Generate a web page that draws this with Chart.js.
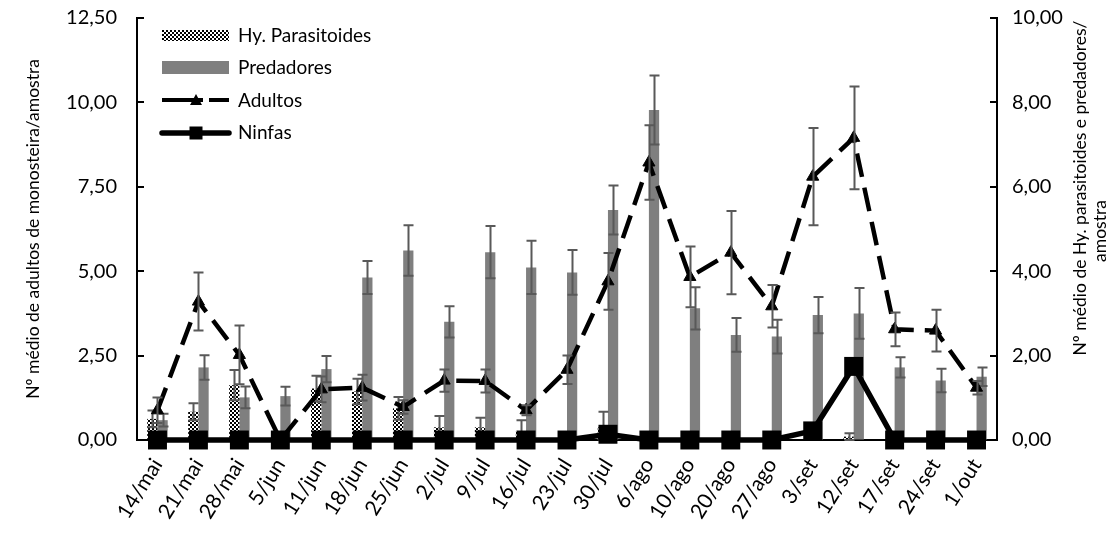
<!DOCTYPE html>
<html>
<head>
<meta charset="utf-8">
<script src="https://cdn.jsdelivr.net/npm/chart.js@4.4.0/dist/chart.umd.min.js"></script>
<style>
  html, body { margin: 0; padding: 0; background: #fff; }
  #wrap { width: 1115px; height: 533px; position: relative; }
</style>
</head>
<body>
<div id="wrap"><canvas id="grafico" width="1115" height="533"></canvas></div>
<script>
// Datas de amostragem
const categorias = ['14/mai', '21/mai', '28/mai', '5/jun', '11/jun', '18/jun', '25/jun', '2/jul', '9/jul', '16/jul',
  '23/jul', '30/jul', '6/ago', '10/ago', '20/ago', '27/ago', '3/set', '12/set', '17/set', '24/set', '1/out'];

// Eixo secundário: inimigos naturais por amostra
const parasitoides      = [0.50, 0.67, 1.30, 0.00, 1.22, 1.15, 0.75, 0.30, 0.30, 0.20, 0.00, 0.30, 0.00, 0.00, 0.00, 0.00, 0.00, 0.08, 0.00, 0.00, 0.00];
const parasitoidesErro  = [0.20, 0.20, 0.36, 0.00, 0.30, 0.30, 0.27, 0.27, 0.23, 0.27, 0.00, 0.37, 0.00, 0.00, 0.00, 0.00, 0.00, 0.08, 0.00, 0.00, 0.00];
const predadores        = [0.47, 1.72, 1.01, 1.04, 1.68, 3.85, 4.49, 2.80, 4.45, 4.09, 3.97, 5.45, 7.82, 3.12, 2.49, 2.45, 2.96, 3.00, 1.72, 1.41, 1.50];
const predadoresErro    = [0.15, 0.29, 0.26, 0.22, 0.31, 0.39, 0.60, 0.37, 0.62, 0.63, 0.53, 0.58, 0.82, 0.50, 0.40, 0.40, 0.43, 0.60, 0.24, 0.28, 0.22];

// Eixo principal: monosteira por amostra
const adultos           = [0.88, 4.10, 2.52, 0.00, 1.50, 1.55, 0.98, 1.76, 1.75, 0.88, 2.08, 4.70, 8.22, 4.83, 5.55, 3.96, 7.80, 8.95, 3.28, 3.24, 1.55];
const adultosErro       = [0.38, 0.86, 0.87, 0.00, 0.38, 0.38, 0.20, 0.33, 0.34, 0.15, 0.42, 0.84, 1.10, 0.90, 1.23, 0.63, 1.44, 1.52, 0.50, 0.62, 0.20];
const ninfas            = [0.00, 0.00, 0.00, 0.00, 0.00, 0.00, 0.00, 0.00, 0.00, 0.00, 0.00, 0.17, 0.00, 0.00, 0.00, 0.00, 0.27, 2.18, 0.00, 0.00, 0.00];

const ticksEsquerda = [0, 2.5, 5, 7.5, 10, 12.5];
const ticksDireita  = [0, 2, 4, 6, 8, 10];

const FONTE = 'Lato, "Open Sans", sans-serif';
const CINZA_BARRA = '#7f7f7f';
const CINZA_ERRO = '#595959';

const canvas = document.getElementById('grafico');
const ctx0 = canvas.getContext('2d');

// Trama quadriculada preta e branca das barras de parasitoides
function criarTrama() {
  const c = document.createElement('canvas');
  c.width = 4; c.height = 4;
  const g = c.getContext('2d');
  g.fillStyle = '#fff'; g.fillRect(0, 0, 4, 4);
  g.fillStyle = '#000'; g.fillRect(0, 0, 2, 2); g.fillRect(2, 2, 2, 2);
  return ctx0.createPattern(c, 'repeat');
}
const trama = criarTrama();

const virgula = v => v.toFixed(2).replace('.', ',');

// Barras de erro desenhadas logo após cada série
const barrasErro = {
  id: 'barrasErro',
  afterDatasetDraw(chart, args) {
    const ds = chart.data.datasets[args.index];
    if (!ds.erros) return;
    const meta = args.meta;
    const escala = chart.scales[meta.yAxisID];
    const ctx = chart.ctx;
    ctx.save();
    ctx.strokeStyle = CINZA_ERRO;
    ctx.lineWidth = 2;
    meta.data.forEach((el, i) => {
      const e = ds.erros[i];
      if (!e) return;
      const v = ds.data[i];
      const x = Math.round(el.x) + 0.5;
      const yt = escala.getPixelForValue(v + e);
      const yb = escala.getPixelForValue(Math.max(0, v - e));
      ctx.beginPath();
      ctx.moveTo(x, yt); ctx.lineTo(x, yb);
      ctx.moveTo(x - 5, yt); ctx.lineTo(x + 5, yt);
      ctx.moveTo(x - 5, yb); ctx.lineTo(x + 5, yb);
      ctx.stroke();
    });
    ctx.restore();
  }
};

// Marcas internas dos eixos, títulos dos eixos e legenda
const decoracao = {
  id: 'decoracao',
  afterDraw(chart) {
    const { ctx, chartArea: a, scales } = chart;
    ctx.save();
    ctx.strokeStyle = '#000';
    ctx.lineWidth = 2;
    ticksEsquerda.forEach(v => {
      const y = Math.round(scales.y.getPixelForValue(v));
      ctx.beginPath(); ctx.moveTo(a.left, y); ctx.lineTo(a.left + 7, y); ctx.stroke();
    });
    ticksDireita.forEach(v => {
      const y = Math.round(scales.y1.getPixelForValue(v));
      ctx.beginPath(); ctx.moveTo(a.right - 7, y); ctx.lineTo(a.right, y); ctx.stroke();
    });

    // títulos dos eixos
    ctx.fillStyle = '#000';
    ctx.font = '17.5px ' + FONTE;
    ctx.textAlign = 'center';
    ctx.textBaseline = 'middle';
    const meio = (a.top + a.bottom) / 2;
    ctx.save();
    ctx.translate(33, meio);
    ctx.rotate(-Math.PI / 2);
    ctx.fillText('Nº médio de adultos de monosteira/amostra', 0, 0);
    ctx.restore();
    ctx.save();
    ctx.translate(1080, 188);
    ctx.rotate(-Math.PI / 2);
    ctx.fillText('Nº médio de Hy. parasitoides e predadores/', 0, 0);
    ctx.restore();
    ctx.save();
    ctx.translate(1100, 231);
    ctx.rotate(-Math.PI / 2);
    ctx.fillText('amostra', 0, 0);
    ctx.restore();

    // legenda
    const x0 = 162, x1 = 229, xm = 196;
    ctx.fillStyle = trama;
    ctx.fillRect(x0, 30, x1 - x0, 11);
    ctx.fillStyle = CINZA_BARRA;
    ctx.fillRect(x0, 61, x1 - x0, 13);

    ctx.strokeStyle = '#000';
    ctx.lineWidth = 4;
    ctx.beginPath();
    ctx.moveTo(x0, 100); ctx.lineTo(203, 100);
    ctx.moveTo(209, 100); ctx.lineTo(x1, 100);
    ctx.stroke();
    ctx.fillStyle = '#000';
    ctx.beginPath();
    ctx.moveTo(xm, 94); ctx.lineTo(xm + 6, 105); ctx.lineTo(xm - 6, 105); ctx.closePath();
    ctx.fill();

    ctx.lineWidth = 5.5;
    ctx.lineCap = 'round';
    ctx.beginPath(); ctx.moveTo(x0, 133); ctx.lineTo(x1, 133); ctx.stroke();
    ctx.lineCap = 'butt';
    ctx.fillRect(xm - 6.5, 126.5, 13, 13);

    ctx.fillStyle = '#000';
    ctx.font = '19px ' + FONTE;
    ctx.textAlign = 'left';
    ctx.fillText('Hy. Parasitoides', 238, 36);
    ctx.fillText('Predadores', 238, 68);
    ctx.fillText('Adultos', 238, 101);
    ctx.fillText('Ninfas', 238, 133);
    ctx.restore();
  }
};

const fonteTicks = { family: FONTE, size: 20 };

// Grade invisível: só afasta os rótulos do eixo sem reservar espaço no topo
const gradeEixoY = tl => ({
  display: true,
  drawOnChartArea: false,
  drawTicks: true,
  tickLength: tl,
  tickColor: 'rgba(0,0,0,0)'
});

new Chart(canvas, {
  type: 'bar',
  data: {
    labels: categorias,
    datasets: [
      {
        label: 'Hy. Parasitoides',
        data: parasitoides,
        erros: parasitoidesErro,
        yAxisID: 'y1',
        backgroundColor: trama,
        borderWidth: 0,
        categoryPercentage: 0.5,
        barPercentage: 1.0,
        order: 2
      },
      {
        label: 'Predadores',
        data: predadores,
        erros: predadoresErro,
        yAxisID: 'y1',
        backgroundColor: CINZA_BARRA,
        borderWidth: 0,
        categoryPercentage: 0.5,
        barPercentage: 1.0,
        order: 2
      },
      {
        type: 'line',
        label: 'Adultos',
        data: adultos,
        erros: adultosErro,
        yAxisID: 'y',
        borderColor: '#000',
        borderWidth: 4.5,
        borderDash: [24, 11],
        borderCapStyle: 'butt',
        tension: 0,
        fill: false,
        pointStyle: 'triangle',
        pointRadius: 7,
        pointBackgroundColor: '#000',
        pointBorderColor: '#000',
        pointBorderWidth: 1,
        clip: false,
        order: 1
      },
      {
        type: 'line',
        label: 'Ninfas',
        data: ninfas,
        yAxisID: 'y',
        borderColor: '#000',
        borderWidth: 5.5,
        tension: 0,
        fill: false,
        pointStyle: 'rect',
        pointRadius: 13.4,
        pointBackgroundColor: '#000',
        pointBorderColor: '#000',
        pointBorderWidth: 0,
        clip: false,
        order: 0
      }
    ]
  },
  options: {
    responsive: false,
    animation: false,
    events: [],
    devicePixelRatio: 1,
    layout: { padding: { top: 18, left: 0, right: 0, bottom: 0 } },
    plugins: {
      legend: { display: false },
      tooltip: { enabled: false }
    },
    scales: {
      x: {
        grid: { display: false },
        border: { display: true, color: '#000', width: 2 },
        ticks: {
          color: '#000',
          font: { family: FONTE, size: 21 },
          minRotation: 58,
          maxRotation: 58,
          autoSkip: false,
          padding: 6
        },
        afterFit: s => { s.height = 93; }
      },
      y: {
        position: 'left',
        min: 0,
        max: 12.5,
        grid: gradeEixoY(20),
        border: { display: true, color: '#000', width: 2 },
        afterBuildTicks: s => { s.ticks = ticksEsquerda.map(v => ({ value: v })); },
        ticks: {
          color: '#000',
          font: fonteTicks,
          padding: 0,
          callback: v => virgula(v)
        },
        afterFit: s => { s.width = 137; }
      },
      y1: {
        position: 'right',
        min: 0,
        max: 10,
        grid: gradeEixoY(15),
        border: { display: true, color: '#000', width: 2 },
        afterBuildTicks: s => { s.ticks = ticksDireita.map(v => ({ value: v })); },
        ticks: {
          color: '#000',
          font: fonteTicks,
          padding: 0,
          callback: v => virgula(v)
        },
        afterFit: s => { s.width = 118; }
      }
    }
  },
  plugins: [barrasErro, decoracao]
});
</script>
</body>
</html>
